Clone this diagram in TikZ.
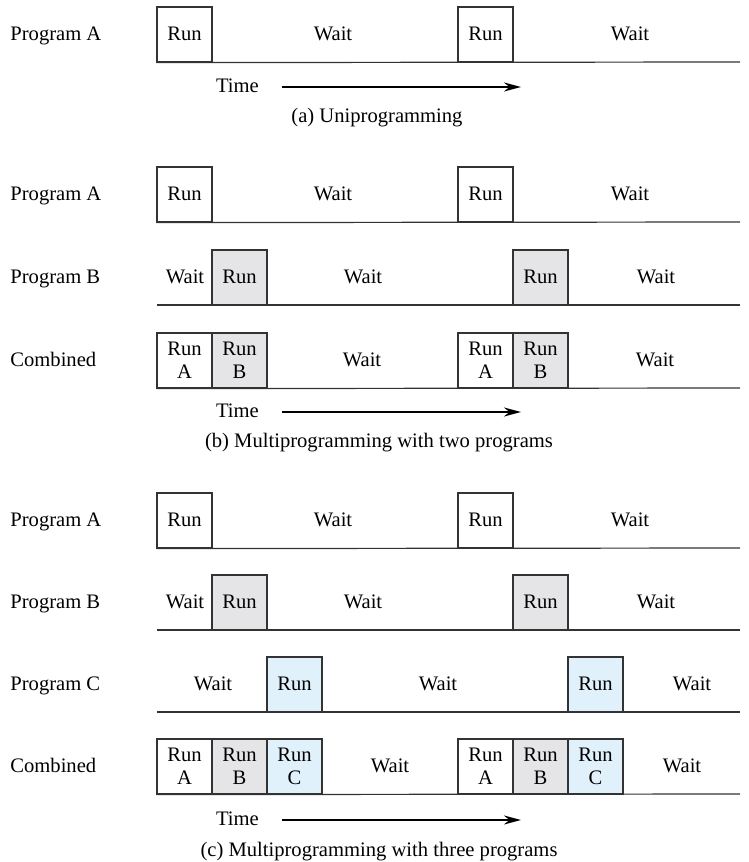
\documentclass[tikz,border=0pt]{standalone}
\usepackage{fontspec}
\setmainfont{Liberation Serif}
\usetikzlibrary{arrows.meta,positioning}
\definecolor{edge}{HTML}{333333}
\definecolor{runB}{HTML}{E5E5E7}
\definecolor{runC}{HTML}{E1F1FB}

\begin{document}
\begin{tikzpicture}[x=0.5pt,y=0.5pt,
    every node/.style={font=\fontsize{10.3}{11.6}\selectfont, inner sep=0pt},
    txt/.style={text height=1.45ex, text depth=0.25ex},
    lbl/.style={txt, anchor=west},
    runbox/.style={draw=edge, line width=0.6pt, minimum width=27.5pt, minimum height=27.5pt, align=center},
    runA/.style={runbox, fill=white},
    runB/.style={runbox, fill=runB},
    runC/.style={runbox, fill=runC},
    timeline/.style={draw=edge, line width=0.6pt},
    timearrow/.style={-{Stealth[length=8.5pt,width=4.5pt]}, line width=1pt}]
    \useasboundingbox (0,0) rectangle (749,-862);

    % (a) uniprogramming
    \node[lbl] (aA) at (10,-34.5) {Program A};
    \node[runA, txt] (aA1) at (184.5,-34.5) {Run};
    \node[runA, txt] (aA2) at (485.5,-34.5) {Run};
    \coordinate (aAend) at (740,-62);
    \draw[timeline] (aA1.south west) -- (aAend);
    \node[txt] at (333,-34.5) {Wait};
    \node[txt] at (630,-34.5) {Wait};
    \node[txt] (aTime) at (237.5,-87) {Time};
    \coordinate (aT0) at (282,-87);
    \coordinate (aT1) at (521,-87);
    \draw[timearrow] (aT0) -- (aT1);
    \node[txt] (aCap) at (377,-117) {(a) Uniprogramming};

    % (b) two programs
    \node[lbl] (bA) at (10,-194.5) {Program A};
    \node[runA, txt] (bA1) at (184.5,-194.5) {Run};
    \node[runA, txt] (bA2) at (485.5,-194.5) {Run};
    \coordinate (bAend) at (740,-222);
    \draw[timeline] (bA1.south west) -- (bAend);
    \node[txt] at (333,-194.5) {Wait};
    \node[txt] at (630,-194.5) {Wait};

    \node[lbl] (bB) at (10,-277.5) {Program B};
    \node[runB, txt] (bB1) at (239.5,-277.5) {Run};
    \node[runB, txt] (bB2) at (540.5,-277.5) {Run};
    \coordinate (bBstart) at (157,-305);
    \coordinate (bBend) at (740,-305);
    \draw[timeline] (bBstart) -- (bBend);
    \node[txt] at (185,-277.5) {Wait};
    \node[txt] at (363,-277.5) {Wait};
    \node[txt] at (656,-277.5) {Wait};

    \node[lbl] (bC) at (10,-360.5) {Combined};
    \node[runA] (bC1) at (184.5,-360.5) {Run\\A};
    \node[runB] (bC2) at (239.5,-360.5) {Run\\B};
    \node[runA] (bC3) at (485.5,-360.5) {Run\\A};
    \node[runB] (bC4) at (540.5,-360.5) {Run\\B};
    \coordinate (bCend) at (740,-388);
    \draw[timeline] (bC1.south west) -- (bCend);
    \node[txt] at (362,-360.5) {Wait};
    \node[txt] at (655,-360.5) {Wait};
    \node[txt] (bTime) at (237.5,-412) {Time};
    \coordinate (bT0) at (282,-412);
    \coordinate (bT1) at (521,-412);
    \draw[timearrow] (bT0) -- (bT1);
    \node[txt] (bCap) at (379,-442) {(b) Multiprogramming with two programs};

    % (c) three programs
    \node[lbl] (cA) at (10,-520.5) {Program A};
    \node[runA, txt] (cA1) at (184.5,-520.5) {Run};
    \node[runA, txt] (cA2) at (485.5,-520.5) {Run};
    \coordinate (cAend) at (740,-548);
    \draw[timeline] (cA1.south west) -- (cAend);
    \node[txt] at (333,-520.5) {Wait};
    \node[txt] at (630,-520.5) {Wait};

    \node[lbl] (cB) at (10,-602.5) {Program B};
    \node[runB, txt] (cB1) at (239.5,-602.5) {Run};
    \node[runB, txt] (cB2) at (540.5,-602.5) {Run};
    \coordinate (cBstart) at (157,-630);
    \coordinate (cBend) at (740,-630);
    \draw[timeline] (cBstart) -- (cBend);
    \node[txt] at (185,-602.5) {Wait};
    \node[txt] at (363,-602.5) {Wait};
    \node[txt] at (656,-602.5) {Wait};

    \node[lbl] (cC) at (10,-684.5) {Program C};
    \node[runC, txt] (cC1) at (294.5,-684.5) {Run};
    \node[runC, txt] (cC2) at (595.5,-684.5) {Run};
    \coordinate (cCstart) at (157,-712);
    \coordinate (cCend) at (740,-712);
    \draw[timeline] (cCstart) -- (cCend);
    \node[txt] at (213,-684.5) {Wait};
    \node[txt] at (438,-684.5) {Wait};
    \node[txt] at (692,-684.5) {Wait};

    \node[lbl] (cD) at (10,-766.5) {Combined};
    \node[runA] (cD1) at (184.5,-766.5) {Run\\A};
    \node[runB] (cD2) at (239.5,-766.5) {Run\\B};
    \node[runC] (cD3) at (294.5,-766.5) {Run\\C};
    \node[runA] (cD4) at (485.5,-766.5) {Run\\A};
    \node[runB] (cD5) at (540.5,-766.5) {Run\\B};
    \node[runC] (cD6) at (595.5,-766.5) {Run\\C};
    \coordinate (cDend) at (740,-794);
    \draw[timeline] (cD1.south west) -- (cDend);
    \node[txt] at (390,-766.5) {Wait};
    \node[txt] at (682,-766.5) {Wait};
    \node[txt] (cTime) at (237.5,-820) {Time};
    \coordinate (cT0) at (282,-820);
    \coordinate (cT1) at (521,-820);
    \draw[timearrow] (cT0) -- (cT1);
    \node[txt] (cCap) at (379,-851) {(c) Multiprogramming with three programs};
\end{tikzpicture}
\end{document}
